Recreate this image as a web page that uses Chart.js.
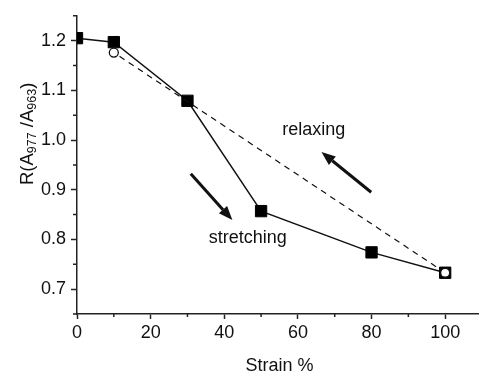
<!DOCTYPE html>
<html>
<head>
<meta charset="utf-8">
<script src="https://cdn.jsdelivr.net/npm/chart.js@4"></script>
<style>
  html, body { margin: 0; padding: 0; background: #fff; overflow: hidden; }
  #wrap { width: 491px; height: 371px; }
</style>
</head>
<body>
<div id="wrap"><canvas id="strainChart" width="491" height="371"></canvas></div>
<script>
// strain (%) vs. band ratio R(A977/A963)
const strainStretch = [0, 10, 30, 50, 80, 100];
const ratioStretch = [1.205, 1.197, 1.079, 0.857, 0.774, 0.733];
const strainRelax = [100, 10];
const ratioRelax = [0.733, 1.176];

const xMajorTicks = [0, 20, 40, 60, 80, 100];
const xMinorTicks = [10, 30, 50, 70, 90];
const yMajorTicks = [0.7, 0.8, 0.9, 1.0, 1.1, 1.2];
const yMinorTicks = [0.65, 0.75, 0.85, 0.95, 1.05, 1.15, 1.25];

const FONT = "'Liberation Sans', Arial, sans-serif";
const INK = "#111";
const AXIS = "#222";

function toPoints(xs, ys) {
  return xs.map((x, i) => ({ x: x, y: ys[i] }));
}

// ----------------- extra drawing -----------------
function drawArrow(ctx, x0, y0, x1, y1) {
  const ang = Math.atan2(y1 - y0, x1 - x0);
  const headLen = 14, headHalf = 5.5;
  const bx = x1 - headLen * Math.cos(ang);
  const by = y1 - headLen * Math.sin(ang);
  ctx.beginPath();
  ctx.moveTo(x0, y0);
  ctx.lineTo(bx, by);
  ctx.lineWidth = 3;
  ctx.stroke();
  ctx.beginPath();
  ctx.moveTo(x1, y1);
  ctx.lineTo(bx + headHalf * Math.sin(ang), by - headHalf * Math.cos(ang));
  ctx.lineTo(bx - headHalf * Math.sin(ang), by + headHalf * Math.cos(ang));
  ctx.closePath();
  ctx.fill();
}

const extras = {
  id: "extras",
  afterDraw(chart) {
    const ctx = chart.ctx;
    const xs = chart.scales.x, ys = chart.scales.y;
    const area = chart.chartArea;
    ctx.save();
    ctx.strokeStyle = AXIS;
    ctx.fillStyle = INK;
    ctx.lineWidth = 1.5;

    // minor ticks
    ctx.beginPath();
    xMinorTicks.forEach((v) => {
      const px = xs.getPixelForValue(v);
      ctx.moveTo(px, area.bottom);
      ctx.lineTo(px, area.bottom + 3);
    });
    yMinorTicks.forEach((v) => {
      const py = ys.getPixelForValue(v);
      ctx.moveTo(area.left, py);
      ctx.lineTo(area.left - 4, py);
    });
    ctx.stroke();

    // arrows
    ctx.strokeStyle = INK;
    drawArrow(ctx, xs.getPixelForValue(79.9), ys.getPixelForValue(0.895),
                   xs.getPixelForValue(66.4), ys.getPixelForValue(0.976));
    drawArrow(ctx, xs.getPixelForValue(30.9), ys.getPixelForValue(0.932),
                   xs.getPixelForValue(42.2), ys.getPixelForValue(0.839));

    // labels
    ctx.font = "18px " + FONT;
    ctx.textAlign = "center";
    ctx.textBaseline = "alphabetic";
    ctx.fillText("relaxing", xs.getPixelForValue(64.3), ys.getPixelForValue(1.010));
    ctx.fillText("stretching", xs.getPixelForValue(46.4), ys.getPixelForValue(0.793));

    // x title, centred under the axis
    ctx.fillText("Strain %", xs.getPixelForValue(55), 370.5);

    // y title with subscripts
    ctx.translate(33.3, 185);
    ctx.rotate(-Math.PI / 2);
    ctx.textAlign = "left";
    const parts = [
      ["R(A", 18.5, 0], ["977", 12.5, 3], [" /A", 18.5, 0], ["963", 12.5, 3], [")", 18.5, 0],
    ];
    let cx = 0;
    parts.forEach(([t, size, dy]) => {
      ctx.font = size + "px " + FONT;
      ctx.fillText(t, cx, dy);
      cx += ctx.measureText(t).width;
    });
    ctx.restore();
  },
};

// ----------------- chart -----------------
const ctx = document.getElementById("strainChart").getContext("2d");
new Chart(ctx, {
  type: "line",
  data: {
    datasets: [
      {
        label: "relaxing",
        data: toPoints(strainRelax, ratioRelax),
        borderColor: INK,
        borderWidth: 1.2,
        borderDash: [6, 5],
        pointStyle: "circle",
        pointRadius: 4.5,
        pointBackgroundColor: "#fff",
        pointBorderColor: INK,
        pointBorderWidth: 1.3,
      },
      {
        label: "stretching",
        data: toPoints(strainStretch, ratioStretch),
        borderColor: INK,
        borderWidth: 1.5,
        pointStyle: "rect",
        pointRadius: 8,
        pointBackgroundColor: "#000",
        pointBorderColor: "#000",
        pointBorderWidth: 1,
      },
    ],
  },
  options: {
    animation: false,
    responsive: false,
    maintainAspectRatio: false,
    // canvas is wider than the window: the x axis runs on past the right edge
    layout: { padding: { top: 12, left: 0, right: 0, bottom: 0 } },
    plugins: { legend: { display: false }, tooltip: { enabled: false } },
    scales: {
      x: {
        type: "linear",
        min: 0,
        max: 110,
        afterBuildTicks: (s) => { s.ticks = xMajorTicks.map((v) => ({ value: v })); },
        afterFit: (s) => { s.height = 57; },
        grid: { drawOnChartArea: false, drawTicks: true, tickLength: 5, tickColor: AXIS, tickWidth: 1.5 },
        border: { display: true, color: AXIS, width: 1.5 },
        ticks: {
          color: INK,
          padding: 3,
          maxRotation: 0,
          font: { family: FONT, size: 18 },
          callback: (v) => String(v),
        },
      },
      y: {
        type: "linear",
        min: 0.65,
        max: 1.25,
        afterBuildTicks: (s) => { s.ticks = yMajorTicks.map((v) => ({ value: v })); },
        afterFit: (s) => { s.width = 77; },
        grid: { drawOnChartArea: false, drawTicks: true, tickLength: 6, tickColor: AXIS, tickWidth: 1.5 },
        border: { display: true, color: AXIS, width: 1.5 },
        ticks: {
          color: INK,
          padding: 5,
          font: { family: FONT, size: 18 },
          callback: (v) => Number(v).toFixed(1),
        },
      },
    },
  },
  plugins: [extras],
});
</script>
</body>
</html>
